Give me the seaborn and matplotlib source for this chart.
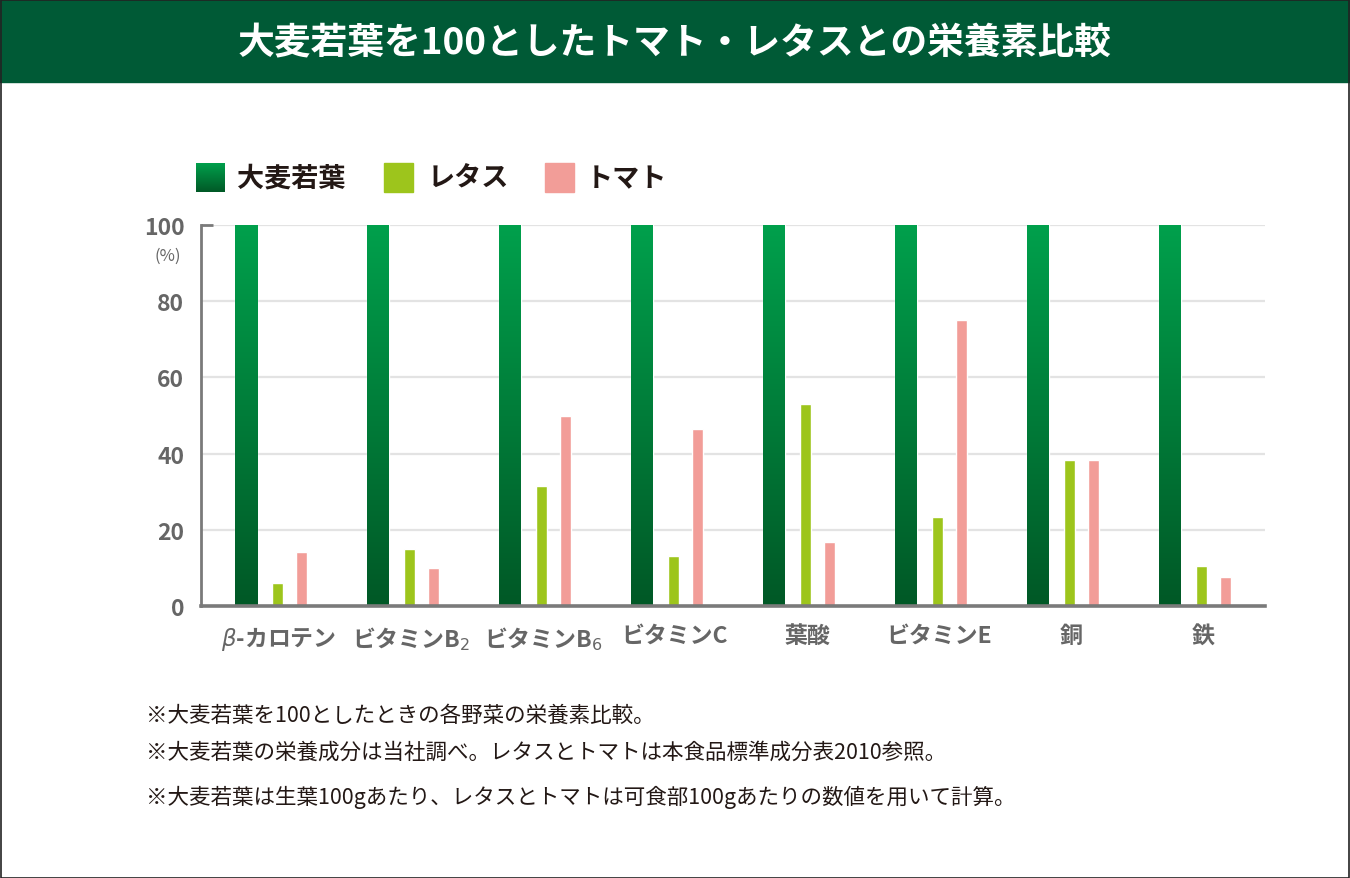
import numpy as np
import pandas as pd
import matplotlib
matplotlib.use('Agg')
import matplotlib.pyplot as plt
import seaborn as sns
from matplotlib.colors import LinearSegmentedColormap
from matplotlib.patches import Rectangle

sns.set_style('white')
plt.rcParams['font.family'] = ['Noto Sans CJK JP', 'DejaVu Sans']
plt.rcParams['mathtext.fontset'] = 'dejavusans'

# data
nutrients = ['$\\beta$-カロテン', 'ビタミンB$_2$', 'ビタミンB$_6$', 'ビタミンC',
             '葉酸', 'ビタミンE', '銅', '鉄']
barley = [100, 100, 100, 100, 100, 100, 100, 100]
lettuce = [6.0, 15.0, 31.5, 13.1, 53.0, 23.4, 38.3, 10.5]
tomato = [14.2, 10.0, 49.9, 46.5, 16.8, 75.1, 38.3, 7.6]
series_names = ['大麦若葉', 'レタス', 'トマト']
y_ticks = [0, 20, 40, 60, 80, 100]

GREEN_TOP = '#00a04c'
GREEN_BOT = '#005826'
LETTUCE = '#9dc51c'
TOMATO = '#f29d98'
HEADER = '#005a36'
AXIS_GRAY = '#7a7a7a'
TEXT_GRAY = '#666666'

grad_cmap = LinearSegmentedColormap.from_list('barley', [GREEN_BOT, GREEN_TOP])

W, H = 1350, 879
fig = plt.figure(figsize=(W / 100, H / 100), dpi=100)

# header band and border
fig.patches.append(Rectangle((0, 1 - 83 / H), 1, 83 / H, transform=fig.transFigure,
                             color=HEADER, zorder=0))
fig.patches.append(Rectangle((0.5 / W, 0.5 / H), 1 - 2 / W, 1 - 1.5 / H, transform=fig.transFigure,
                             fill=False, edgecolor='#222222', linewidth=1.2, zorder=5))
fig.text(0.5, 1 - 44 / H, '大麦若葉を100としたトマト・レタスとの栄養素比較',
         ha='center', va='center', color='white', fontsize=26.5, fontweight='bold')

# axes: x 201..1265, y 226..607
ax = fig.add_axes([201 / W, 1 - 607 / H, (1265 - 201) / W, (607 - 226) / H])

idx = np.arange(len(nutrients))
off_l = 31.5 / 132
off_t = 55.5 / 132
df = pd.DataFrame({
    'pos': np.concatenate([idx, idx + off_l, idx + off_t]),
    'value': barley + lettuce + tomato,
    'series': np.repeat(series_names, len(nutrients)),
})

sub_b = df[df['series'] == series_names[0]]
sub_l = df[df['series'] == series_names[1]]
sub_t = df[df['series'] == series_names[2]]
sns.barplot(data=sub_b, x='pos', y='value', native_scale=True, width=22 / 132,
            color=GREEN_TOP, saturation=1, ax=ax, zorder=3, errorbar=None)
sns.barplot(data=sub_l, x='pos', y='value', native_scale=True, width=11 / 132,
            color=LETTUCE, saturation=1, ax=ax, zorder=3, errorbar=None)
sns.barplot(data=sub_t, x='pos', y='value', native_scale=True, width=11 / 132,
            color=TOMATO, saturation=1, ax=ax, zorder=3, errorbar=None)

ax.set_xlim(-45 / 132, (1265 - 246) / 132)
ax.set_ylim(0, 100)

# gradient on barley bars
grad = np.linspace(0, 1, 256).reshape(-1, 1)
n_b = len(nutrients)
for p in ax.patches[:n_b]:
    x0, y0 = p.get_x(), p.get_y()
    w, h = p.get_width(), p.get_height()
    p.set_facecolor('none')
    im = ax.imshow(grad, cmap=grad_cmap, origin='lower', aspect='auto',
                   extent=[x0, x0 + w, y0, y0 + h], zorder=3)
    im.set_clip_path(p)

for v in y_ticks[1:]:
    ax.axhline(v, color='#e3e3e3', linewidth=1.6, zorder=1)

for s in ['top', 'right']:
    ax.spines[s].set_visible(False)
ax.spines['left'].set_color(AXIS_GRAY)
ax.spines['left'].set_linewidth(2)
ax.spines['bottom'].set_color(AXIS_GRAY)
ax.spines['bottom'].set_linewidth(2.6)
ax.spines['bottom'].set_zorder(6)
ax.plot([-45 / 132, -33 / 132], [100, 100], color=AXIS_GRAY, linewidth=2,
        clip_on=False, zorder=4, solid_capstyle='butt')

ax.set_yticks(y_ticks)
ax.set_yticklabels([str(v) for v in y_ticks], fontsize=16.5, fontweight='bold', color=TEXT_GRAY)
ax.tick_params(axis='y', length=0, pad=12)
ax.set_xticks(idx + 0.25)
ax.set_xticklabels(nutrients, fontsize=16.5, fontweight='bold', color=TEXT_GRAY)
ax.tick_params(axis='x', length=0, pad=13)
ax.set_xlabel('')
ax.set_ylabel('')

# legend and notes in pixel coords
lax = fig.add_axes([0, 0, 1, 1], facecolor='none')
lax.set_xlim(0, W)
lax.set_ylim(H, 0)
lax.axis('off')
lax.text(168, 256, '(%)', ha='center', va='center', fontsize=12, color=TEXT_GRAY)
lax.imshow(grad, cmap=grad_cmap, origin='lower', aspect='auto',
           extent=[196, 225, 193, 164])
lax.add_patch(Rectangle((384, 164), 29, 29, color=LETTUCE))
lax.add_patch(Rectangle((545, 164), 29, 29, color=TOMATO))
for x, name in zip([237, 428, 586], series_names):
    lax.text(x, 179, name, ha='left', va='center', fontsize=19.5, fontweight='bold',
             color='#231815')

notes = [
    '※大麦若葉を100としたときの各野菜の栄養素比較。',
    '※大麦若葉の栄養成分は当社調べ。レタスとトマトは本食品標準成分表2010参照。',
    '※大麦若葉は生葉100gあたり、レタスとトマトは可食部100gあたりの数値を用いて計算。',
]
for y, t in zip([716, 753, 797], notes):
    lax.text(146, y, t, ha='left', va='center', fontsize=15.5, color='#231815')

fig.savefig('out.png', dpi=100)
